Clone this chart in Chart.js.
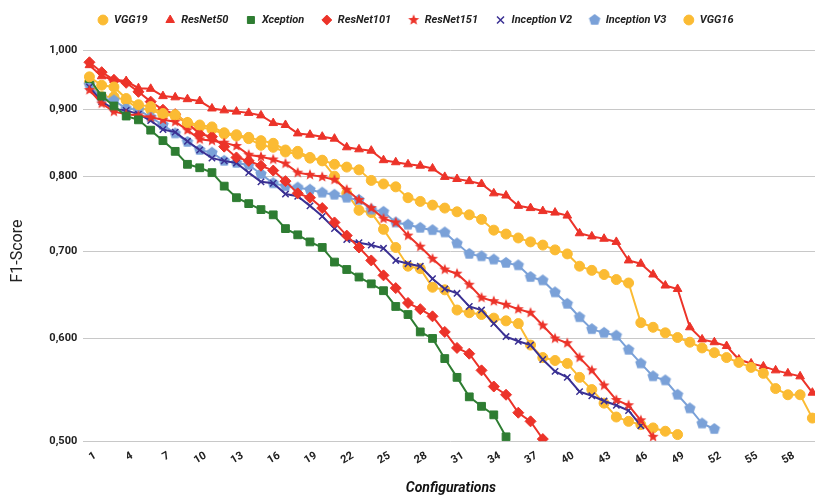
<!DOCTYPE html>
<html>
<head>
<meta charset="utf-8">
<script src="https://cdn.jsdelivr.net/npm/chart.js@4.4.1/dist/chart.umd.min.js"></script>
<style>
html,body{margin:0;padding:0;background:#fff;}
#wrap{width:815px;height:495px;overflow:hidden;position:relative;}
#box{width:825px;height:495px;position:absolute;left:0;top:0;}
</style>
</head>
<body>
<div id="wrap"><div id="box"><canvas id="c" width="825" height="495"></canvas></div></div>
<script>
// ---- data ----
const configurations = ['1','2','3','4','5','6','7','8','9','10','11','12','13','14','15','16','17','18','19','20',
  '21','22','23','24','25','26','27','28','29','30','31','32','33','34','35','36','37','38','39','40',
  '41','42','43','44','45','46','47','48','49','50','51','52','53','54','55','56','57','58','59','60'];
const yTickValues = [0.5, 0.6, 0.7, 0.8, 0.9, 1.0];

const vgg19 = [0.954,0.940,0.937,0.918,0.908,0.905,0.894,0.892,0.880,0.876,
  0.873,0.864,0.861,0.857,0.852,0.848,0.838,0.836,0.827,0.823,
  0.817,0.813,0.809,0.794,0.789,0.785,0.770,0.765,0.760,0.756,
  0.751,0.747,0.741,0.727,0.722,0.717,0.712,0.708,0.702,0.697,
  0.682,0.677,0.672,0.666,0.662,0.617,0.612,0.606,0.601,0.596,
  0.590,0.585,0.580,0.575,0.570,0.564,0.549,0.543,0.543,0.521];
const resnet50 = [0.974,0.955,0.949,0.947,0.935,0.934,0.922,0.920,0.917,0.914,
  0.902,0.899,0.897,0.895,0.891,0.879,0.876,0.863,0.861,0.858,
  0.855,0.842,0.839,0.837,0.823,0.820,0.817,0.815,0.811,0.799,
  0.796,0.793,0.789,0.776,0.773,0.759,0.756,0.752,0.750,0.746,
  0.723,0.719,0.716,0.712,0.689,0.685,0.672,0.659,0.655,0.612,
  0.599,0.596,0.592,0.578,0.574,0.571,0.567,0.564,0.561,0.545];
const xception = [0.951,0.922,0.906,0.890,0.884,0.868,0.852,0.836,0.817,0.812,
  0.805,0.786,0.770,0.762,0.754,0.747,0.729,0.721,0.712,0.705,
  0.687,0.678,0.669,0.661,0.653,0.635,0.626,0.607,0.600,0.579,
  0.560,0.541,0.532,0.524,0.504];
const resnet101 = [0.979,0.962,0.949,0.944,0.929,0.913,0.900,0.893,0.879,0.862,
  0.858,0.843,0.827,0.822,0.815,0.808,0.793,0.776,0.770,0.756,
  0.737,0.720,0.705,0.689,0.671,0.656,0.639,0.632,0.624,0.607,
  0.590,0.584,0.567,0.551,0.543,0.526,0.518,0.502];
const resnet151 = [0.932,0.910,0.897,0.893,0.891,0.888,0.884,0.881,0.868,0.854,
  0.852,0.849,0.844,0.831,0.828,0.824,0.818,0.805,0.802,0.799,
  0.795,0.781,0.767,0.756,0.742,0.737,0.720,0.706,0.691,0.678,
  0.673,0.660,0.645,0.641,0.637,0.632,0.628,0.614,0.600,0.595,
  0.580,0.567,0.552,0.538,0.533,0.519,0.504];
const inceptionV2 = [0.937,0.913,0.901,0.899,0.893,0.883,0.869,0.865,0.851,0.838,
  0.826,0.822,0.819,0.805,0.792,0.790,0.775,0.772,0.759,0.745,
  0.729,0.715,0.711,0.708,0.704,0.689,0.685,0.682,0.667,0.655,
  0.650,0.635,0.631,0.616,0.602,0.597,0.593,0.578,0.566,0.560,
  0.546,0.542,0.537,0.533,0.528,0.514];
const inceptionV3 = [0.941,0.918,0.915,0.902,0.900,0.888,0.876,0.863,0.850,0.838,
  0.834,0.822,0.819,0.816,0.803,0.790,0.786,0.784,0.781,0.777,
  0.774,0.770,0.767,0.754,0.751,0.737,0.734,0.730,0.727,0.724,
  0.710,0.697,0.694,0.690,0.686,0.683,0.669,0.665,0.651,0.638,
  0.623,0.610,0.606,0.603,0.588,0.574,0.561,0.557,0.543,0.530,
  0.516,0.511];
const vgg16 = [0.945,0.921,0.921,0.915,0.902,0.900,0.892,0.890,0.878,0.873,
  0.869,0.862,0.859,0.855,0.845,0.842,0.835,0.832,0.826,0.822,
  0.800,0.776,0.753,0.750,0.728,0.705,0.682,0.679,0.657,0.654,
  0.631,0.628,0.626,0.622,0.619,0.616,0.593,0.580,0.577,0.574,
  0.560,0.548,0.535,0.522,0.518,0.515,0.512,0.509,0.506];

// ---- styles ----
const YELLOW = '#fbbb33', RED = '#ec3329', GREEN = '#2e7d32', INDIGO = '#3a3093', LBLUE = '#7aa1d8';

function polyImage(color, n, R, r) {
  const size = Math.ceil(2 * R + 2);
  const cv = document.createElement('canvas');
  cv.width = size; cv.height = size;
  const g = cv.getContext('2d');
  const c = size / 2;
  g.beginPath();
  const pts = r ? n * 2 : n;
  for (let k = 0; k < pts; k++) {
    const rad = r ? (k % 2 === 0 ? R : r) : R;
    const a = -Math.PI / 2 + k * 2 * Math.PI / pts;
    const px = c + rad * Math.cos(a), py = c + rad * Math.sin(a);
    if (k === 0) g.moveTo(px, py); else g.lineTo(px, py);
  }
  g.closePath();
  g.fillStyle = color;
  g.fill();
  return cv;
}
const starImg = polyImage(RED, 5, 5.8, 2.5);
const pentImg = polyImage(LBLUE, 5, 6, 0);

function ds(label, data, color, style, radius, bw) {
  return {
    label, data,
    borderColor: color, backgroundColor: color,
    pointBackgroundColor: color, pointBorderColor: color,
    pointStyle: style, pointRadius: radius, pointHoverRadius: radius,
    pointBorderWidth: bw || 1, borderWidth: 2, tension: 0, fill: false
  };
}

const legendGap = {
  id: 'legendGap',
  beforeInit(chart) {
    const l = chart.legend;
    if (!l) return;
    const f = l.fit;
    l.fit = function () { f.call(this); this.height += 14.8; };
  }
};

// y-axis title drawn as real canvas text, centred where the reference has it
const yTitle = {
  id: 'yTitle',
  afterDraw(chart) {
    const g = chart.ctx;
    g.save();
    g.translate(17.5, 251);
    g.rotate(-Math.PI / 2);
    g.font = '16px Roboto';
    g.fillStyle = '#222';
    g.textAlign = 'center';
    g.textBaseline = 'middle';
    g.fillText('F1-Score', 0, 0);
    g.restore();
  }
};

function build() {
  new Chart(document.getElementById('c'), {
    type: 'line',
    data: {
      labels: configurations,
      datasets: [
        ds('VGG19', vgg19, YELLOW, 'circle', 5),
        ds('ResNet50', resnet50, RED, 'triangle', 5),
        ds('Xception', xception, GREEN, 'rect', 5.5),
        ds('ResNet101', resnet101, RED, 'rectRot', 5.5),
        ds('ResNet151', resnet151, RED, starImg, 5),
        ds('Inception V2', inceptionV2, INDIGO, 'crossRot', 4.5, 1.5),
        ds('Inception V3', inceptionV3, LBLUE, pentImg, 5),
        ds('VGG16', vgg16, YELLOW, 'circle', 5)
      ]
    },
    plugins: [legendGap, yTitle],
    options: {
      responsive: false,
      animation: false,
      devicePixelRatio: 1,
      layout: { padding: { left: 6, top: -2.5, right: 0, bottom: 0 } },
      plugins: {
        legend: {
          position: 'top',
          labels: {
            usePointStyle: true, boxHeight: 7, padding: 17, color: '#222',
            font: { family: 'Roboto', size: 11, weight: 'bold', style: 'italic' },
            sort: (a, b) => a.datasetIndex - b.datasetIndex
          }
        },
        tooltip: { enabled: false }
      },
      scales: {
        x: {
          type: 'category', offset: true,
          grid: { display: false, drawTicks: false },
          border: { display: false },
          ticks: {
            autoSkip: false, maxRotation: 30, minRotation: 30, padding: 8, labelOffset: 6,
            color: '#222', font: { family: 'Roboto', size: 11, weight: 'bold' },
            callback: function (v, i) { return i % 3 === 0 ? this.getLabelForValue(v) : null; }
          },
          title: {
            display: true, text: 'Configurations', color: '#111',
            font: { family: 'Roboto', size: 14, weight: 'bold', style: 'italic', lineHeight: 1 },
            padding: { top: 0, bottom: 0 }
          },
          afterFit(s) { s.height = 53.7; }
        },
        y: {
          type: 'logarithmic', min: 0.5, max: 1.0,
          grid: { color: '#c8c8c8', lineWidth: 1, drawTicks: false },
          border: { display: false },
          afterBuildTicks(s) { s.ticks = yTickValues.map(v => ({ value: v })); },
          ticks: {
            padding: 6, color: '#222', font: { family: 'Roboto', size: 11, weight: 'bold' },
            callback: v => Number(v).toFixed(3).replace('.', ',')
          },
          title: { display: false },
          afterFit(s) { s.width = 77.3; }
        }
      }
    }
  });
}

Promise.all([
  document.fonts.load('bold italic 11px Roboto'),
  document.fonts.load('bold 11px Roboto'),
  document.fonts.load('16px Roboto'),
  document.fonts.load('bold italic 14px Roboto')
]).then(build, build);
</script>
</body>
</html>
